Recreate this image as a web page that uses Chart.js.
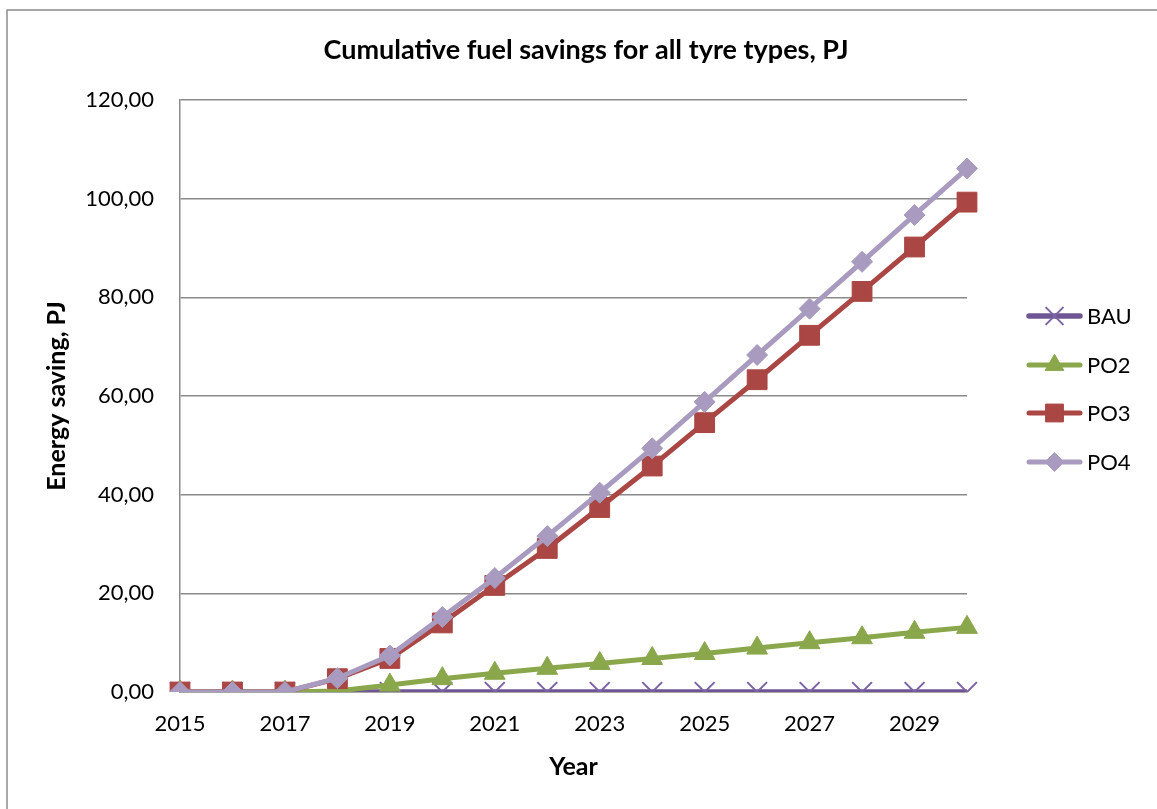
<!DOCTYPE html>
<html>
<head>
<meta charset="utf-8">
<script src="https://cdn.jsdelivr.net/npm/chart.js@4/dist/chart.umd.min.js"></script>
<style>
  html, body { margin: 0; padding: 0; background: #ffffff; }
  #wrap { position: relative; width: 1157px; height: 809px; }
</style>
</head>
<body>
<div id="wrap"><canvas id="chart"></canvas></div>
<script>
// Cumulative fuel savings (PJ) per policy option, 2015-2030
const years = ['2015', '2016', '2017', '2018', '2019', '2020', '2021', '2022',
               '2023', '2024', '2025', '2026', '2027', '2028', '2029', '2030'];
const bau = [0, 0, 0, 0, 0, 0, 0, 0, 0, 0, 0, 0, 0, 0, 0, 0];
const po2 = [0, 0, 0, 0.2, 1.4, 2.7, 3.8, 4.8, 5.8, 6.8, 7.8, 8.9, 10.0, 11.0, 12.1, 13.1];
const po3 = [0, 0, 0, 2.7, 6.8, 14.0, 21.6, 29.1, 37.4, 45.8, 54.6, 63.3, 72.3, 81.2, 90.2, 99.3];
const po4 = [0, 0, 0, 2.8, 7.4, 15.2, 23.1, 31.6, 40.4, 49.4, 58.8, 68.3, 77.7, 87.2, 96.7, 106.1];
const seriesNames = ['BAU', 'PO2', 'PO3', 'PO4'];
const yTicks = [0, 20, 40, 60, 80, 100, 120];

const FONT = 'Lato, "Liberation Sans", sans-serif';
const GRID = '#8a8a8a';

const fmt = v => Number(v).toFixed(2).replace('.', ',');

// frame, title and legend drawn on the canvas
const decorations = {
  id: 'decorations',
  afterDraw(chart) {
    const ctx = chart.ctx;
    ctx.save();
    // outer frame (left and top edges)
    ctx.strokeStyle = '#8c8c8c';
    ctx.lineWidth = 1.5;
    ctx.beginPath();
    ctx.moveTo(7, 809);
    ctx.lineTo(7, 10);
    ctx.lineTo(1157, 10);
    ctx.stroke();

    // title
    ctx.fillStyle = '#000';
    ctx.font = 'bold 27px ' + FONT;
    ctx.textAlign = 'center';
    ctx.textBaseline = 'middle';
    ctx.fillText('Cumulative fuel savings for all tyre types, PJ', 586, 50);

    // legend
    const rows = [316, 365, 413, 462];
    chart.data.datasets.forEach((ds, i) => {
      const y = rows[i];
      ctx.strokeStyle = ds.borderColor;
      ctx.lineWidth = ds.borderWidth;
      ctx.lineCap = 'round';
      ctx.beginPath();
      ctx.moveTo(1029, y);
      ctx.lineTo(1080, y);
      ctx.stroke();
      ctx.lineCap = 'butt';
      ctx.fillStyle = ds.pointBackgroundColor;
      ctx.strokeStyle = ds.pointBorderColor;
      ctx.lineWidth = ds.pointBorderWidth;
      Chart.helpers.drawPoint(ctx, {
        pointStyle: ds.pointStyle,
        radius: ds.pointRadius * 0.9,
        rotation: 0,
        borderWidth: ds.pointBorderWidth
      }, 1054.5, y);
      ctx.fillStyle = '#000';
      ctx.font = '22px ' + FONT;
      ctx.textAlign = 'left';
      ctx.textBaseline = 'middle';
      ctx.fillText(seriesNames[i], 1087, y + 1);
    });
    ctx.restore();
  }
};

new Chart(document.getElementById('chart'), {
  type: 'line',
  data: {
    labels: years,
    datasets: [
      {
        label: seriesNames[0], data: bau, order: 4,
        borderColor: '#6f5593', borderWidth: 5.5,
        pointStyle: 'crossRot', pointRadius: 14,
        pointBackgroundColor: '#7b62a4', pointBorderColor: '#7b62a4', pointBorderWidth: 2
      },
      {
        label: seriesNames[1], data: po2, order: 3,
        borderColor: '#8aa74c', borderWidth: 5,
        pointStyle: 'triangle', pointRadius: 12,
        pointBackgroundColor: '#8aa74c', pointBorderColor: '#8aa74c', pointBorderWidth: 1
      },
      {
        label: seriesNames[2], data: po3, order: 2,
        borderColor: '#aa4643', borderWidth: 5,
        pointStyle: 'rect', pointRadius: 14,
        pointBackgroundColor: '#aa4643', pointBorderColor: '#aa4643', pointBorderWidth: 1
      },
      {
        label: seriesNames[3], data: po4, order: 1,
        borderColor: '#a99bbf', borderWidth: 5,
        pointStyle: 'rectRot', pointRadius: 10.5,
        pointBackgroundColor: '#a99bbf', pointBorderColor: '#a99bbf', pointBorderWidth: 1
      }
    ]
  },
  options: {
    responsive: true,
    maintainAspectRatio: false,
    animation: false,
    events: [],
    layout: { padding: { left: 0, top: 100, right: 190, bottom: 0 } },
    elements: { line: { tension: 0 } },
    plugins: {
      legend: { display: false },
      title: { display: false },
      tooltip: { enabled: false }
    },
    scales: {
      x: {
        type: 'category',
        offset: false,
        grid: { display: false, drawTicks: false },
        border: { display: true, color: GRID, width: 1.5 },
        ticks: {
          autoSkip: false, maxRotation: 0, minRotation: 0, padding: 19,
          color: '#000', font: { family: FONT, size: 22 },
          callback: (v, i) => (i % 2 === 0 && i < years.length - 1) ? years[i] : ''
        },
        title: {
          display: true, text: 'Year', color: '#000',
          font: { family: FONT, size: 25, weight: 'bold' },
          padding: { top: 0, bottom: 27 }
        },
        afterFit: s => { s.height = 117; }
      },
      y: {
        min: 0, max: 120,
        afterBuildTicks: s => { s.ticks = yTicks.map(v => ({ value: v })); },
        grid: { color: GRID, lineWidth: 1.5, drawTicks: false },
        border: { display: true, color: GRID, width: 1.5 },
        ticks: {
          padding: 26, color: '#000', font: { family: FONT, size: 22 },
          callback: v => fmt(v)
        },
        title: {
          display: true, text: 'Energy saving, PJ', color: '#000',
          font: { family: FONT, size: 25, weight: 'bold' },
          padding: { top: 42, bottom: 0 }
        },
        afterFit: s => { s.width = 180; }
      }
    }
  },
  plugins: [decorations]
});
</script>
</body>
</html>
